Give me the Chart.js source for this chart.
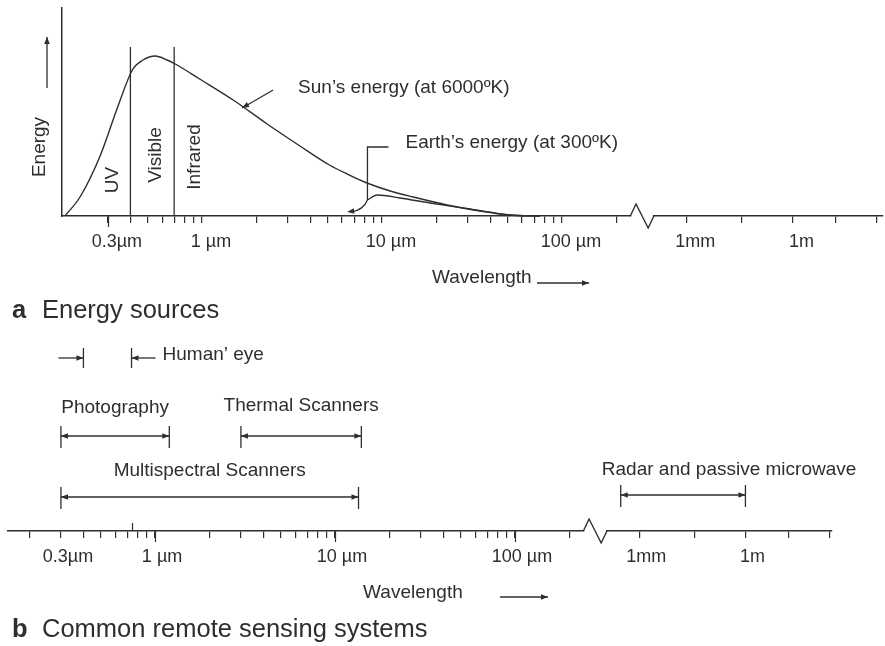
<!DOCTYPE html>
<html lang="en">
<head>
  <meta charset="UTF-8">
  <title>Energy sources and remote sensing systems</title>
  <script src="https://cdn.jsdelivr.net/npm/chart.js@4.4.1/dist/chart.umd.min.js"></script>
  <style>
    body { margin: 0; background: #fff; }
    #page { position: relative; width: 885px; height: 646px; overflow: hidden;
            font-family: "Liberation Sans", Arial, sans-serif; color: #2e2e2e; }
    canvas { position: absolute; left: 0; }
    #energyChart { top: 0; }
    #sensorChart { top: 330px; }
    .panel-title { position: absolute; left: 12px; font-size: 25.5px; line-height: 25.5px; white-space: nowrap; }
    .panel-title b { display: inline-block; width: 30px; }
  </style>
</head>
<body>
<div id="page">
  <canvas id="energyChart" width="885" height="300"></canvas>
  <canvas id="sensorChart" width="885" height="316"></canvas>
  <div class="panel-title" style="top: 297px"><b>a</b>Energy sources</div>
  <div class="panel-title" style="top: 616px"><b>b</b>Common remote sensing systems</div>
</div>

<script>
  const ink = '#2e2e2e';
  const fontFamily = '"Liberation Sans", Arial, Helvetica, sans-serif';

  // emission curves: wavelength in µm, relative energy
  const sunWavelength = [0.173, 0.21, 0.27, 0.34, 0.41, 0.47, 0.55, 0.64, 0.71, 0.97, 1.49, 2.3, 3.5, 5.1, 6.4, 8.25, 11.1, 14.9, 23, 35, 51, 75];
  const sunEnergy     = [0, 19, 59, 109, 146, 156, 160, 156, 152, 137, 116, 92, 70, 51, 42, 33, 25, 19, 11, 5, 1, 0];
  const earthWavelength = [8.3, 9.4, 12.6, 18.5, 30.8, 51.4, 75];
  const earthEnergy     = [16, 21, 18, 13, 7, 1, 0];

  // spectral bands under the sun curve
  const bandEdges = [0.4, 0.7];
  const bandNames = ['UV', 'Visible', 'Infrared'];

  // log spaced ticks up to 200 µm, then a squeezed stretch after the axis break
  const tickWavelengthA = [0.3, 0.4, 0.5, 0.6, 0.7, 0.8, 0.9, 1, 2, 3, 4, 5, 6, 7, 8, 9, 10,
                           20, 30, 40, 50, 60, 70, 80, 90, 100, 200];
  const tickWavelengthB = [0.2].concat(tickWavelengthA);
  const tickLabelText = { 0.3: '0.3µm', 1: '1 µm', 10: '10 µm', 100: '100 µm' };
  const farTickPos = [2.69, 3.0, 3.28, 3.52, 3.75];
  const farTickLabels = ['1mm', '', '1m', '', ''];

  // remote sensing systems, range in µm
  const sensorNames = ['Photography', 'Thermal Scanners', 'Multispectral Scanners', 'Radar and passive microwave'];
  const sensorFrom  = [0.3, 3, 0.3, 300];
  const sensorTo    = [1.2, 14, 13.5, 1e6];
  const eyeRange    = [0.4, 0.74];

  // position on the x axis (decades of µm); past the break 1mm and 1m sit on far ticks 0 and 2
  function toPos(um) {
    if (um <= 250) return Math.log10(um);
    const p0 = farTickPos[0], p1 = farTickPos[2];
    return p0 + (Math.log10(um) - 3) / 3 * (p1 - p0);
  }

  function axisTicks(wavelengths) {
    return {
      pos: wavelengths.map(toPos).concat(farTickPos),
      text: wavelengths.map(w => tickLabelText[w] || '').concat(farTickLabels)
    };
  }

  function wavelengthAxis(ticks, min, max, height, labelOffset) {
    return {
      type: 'linear', min: min, max: max,
      afterBuildTicks: s => { s.ticks = ticks.pos.map(v => ({ value: v })); },
      afterFit: s => { s.height = height; },
      grid: { drawOnChartArea: false, tickLength: 7, color: ink, lineWidth: 1.2 },
      border: { color: ink, width: 1.5 },
      ticks: {
        autoSkip: false, maxRotation: 0, padding: 8, labelOffset: labelOffset, color: ink,
        font: { family: fontFamily, size: 18 },
        callback: (v, i) => ticks.text[i]
      }
    };
  }

  // small drawing helpers
  function write(ctx, str, x, y, align, size) {
    ctx.save();
    ctx.font = (size || 19) + 'px ' + fontFamily;
    ctx.fillStyle = ink;
    ctx.textAlign = align || 'left';
    ctx.textBaseline = 'middle';
    ctx.fillText(str, x, y);
    ctx.restore();
  }

  function writeUp(ctx, str, x, y) {
    ctx.save();
    ctx.translate(x, y);
    ctx.rotate(-Math.PI / 2);
    write(ctx, str, 0, 0, 'center');
    ctx.restore();
  }

  function line(ctx, x0, y0, x1, y1) {
    ctx.beginPath();
    ctx.moveTo(x0, y0);
    ctx.lineTo(x1, y1);
    ctx.stroke();
  }

  function head(ctx, x, y, dx, dy) {
    const l = Math.hypot(dx, dy), ux = dx / l, uy = dy / l;
    const len = 7, w = 2.8;
    ctx.beginPath();
    ctx.moveTo(x, y);
    ctx.lineTo(x - ux * len - uy * w, y - uy * len + ux * w);
    ctx.lineTo(x - ux * len + uy * w, y - uy * len - ux * w);
    ctx.closePath();
    ctx.fill();
  }

  function arrow(ctx, x0, y0, x1, y1) {
    line(ctx, x0, y0, x1, y1);
    head(ctx, x1, y1, x1 - x0, y1 - y0);
  }

  // longer tick marks at a few wavelengths (up = above the axis line)
  function longTicks(chart, wavelengths, down, up) {
    const { ctx, chartArea: area, scales: { x } } = chart;
    ctx.save();
    ctx.strokeStyle = ink;
    ctx.lineWidth = 1.2;
    wavelengths.forEach(w => {
      const px = Math.round(x.getPixelForValue(toPos(w))) + 0.5;
      line(ctx, px, area.bottom - up, px, area.bottom + down);
    });
    ctx.restore();
  }

  // white out the axis between two positions and draw the zigzag
  function axisBreak(chart, from, to) {
    const { ctx, chartArea: area, scales: { x } } = chart;
    const a = x.getPixelForValue(from), b = x.getPixelForValue(to), yy = area.bottom;
    ctx.save();
    ctx.fillStyle = '#fff';
    ctx.fillRect(a, yy - 3, b - a, 6);
    ctx.strokeStyle = ink;
    ctx.lineWidth = 1.4;
    ctx.beginPath();
    ctx.moveTo(a - 1, yy);
    ctx.lineTo(a + (b - a) * 0.22, yy - 12);
    ctx.lineTo(a + (b - a) * 0.78, yy + 12);
    ctx.lineTo(b + 1, yy);
    ctx.stroke();
    ctx.restore();
  }

  function curve(label, wl, energy) {
    return {
      label: label,
      data: wl.map((w, i) => ({ x: toPos(w), y: energy[i] })),
      borderColor: ink, borderWidth: 1.4, pointRadius: 0,
      cubicInterpolationMode: 'monotone', clip: false
    };
  }

  // panel a: labels, band lines and pointers over the curves
  const energyDecor = {
    id: 'energyDecor',
    afterDraw(chart) {
      const { ctx, chartArea: area, scales: { x, y } } = chart;
      ctx.save();
      ctx.strokeStyle = ink;
      ctx.fillStyle = ink;
      ctx.lineWidth = 1.3;

      bandEdges.forEach(w => {
        const px = x.getPixelForValue(toPos(w));
        line(ctx, px, y.getPixelForValue(169), px, area.bottom);
      });
      [[0.32, 36], [0.555, 61], [0.91, 59]].forEach((p, i) => {
        writeUp(ctx, bandNames[i], x.getPixelForValue(toPos(p[0])), y.getPixelForValue(p[1]));
      });

      writeUp(ctx, 'Energy', area.left - 22, 147);
      arrow(ctx, area.left - 15, 88, area.left - 15, 37);

      // pointer onto the sun curve near 1.7 µm
      const sx = x.getPixelForValue(toPos(1.67)), sy = y.getPixelForValue(108);
      arrow(ctx, sx + 31, sy - 18, sx, sy);
      write(ctx, 'Sun’s energy (at 6000ºK)', sx + 56, sy - 20);

      // leader to the start of the earth curve, with a hook down to the axis
      const ex = x.getPixelForValue(toPos(earthWavelength[0])), ey = y.getPixelForValue(earthEnergy[0]);
      const top = y.getPixelForValue(69);
      ctx.beginPath();
      ctx.moveTo(ex + 21, top);
      ctx.lineTo(ex, top);
      ctx.lineTo(ex, ey);
      ctx.stroke();
      const tx = x.getPixelForValue(toPos(6.4)), ty = y.getPixelForValue(4);
      ctx.beginPath();
      ctx.moveTo(ex, ey);
      ctx.quadraticCurveTo(ex - 4, ty - 2, tx + 4, ty);
      ctx.stroke();
      head(ctx, tx, ty, -15, 2);
      write(ctx, 'Earth’s energy (at 300ºK)', ex + 38, top - 4);

      write(ctx, 'Wavelength', x.getPixelForValue(1.278), area.bottom + 62);
      arrow(ctx, x.getPixelForValue(1.861), area.bottom + 67, x.getPixelForValue(2.15), area.bottom + 67);
      ctx.restore();

      longTicks(chart, [0.3], 11, 0);
      axisBreak(chart, 2.385, 2.505);
    }
  };

  // panel b: wavelength ranges of the sensing systems
  const sensorRow = [95, 95, 34, 36];
  const sensorLabelGap = [28, 30, 26, 25];
  const sensorLabelShift = [0, 0, 0, 46];

  const sensorDecor = {
    id: 'sensorDecor',
    afterDraw(chart) {
      const { ctx, chartArea: area, scales: { x, y } } = chart;
      ctx.save();
      ctx.strokeStyle = ink;
      ctx.fillStyle = ink;
      ctx.lineWidth = 1.3;

      const eyeY = y.getPixelForValue(173);
      const e0 = x.getPixelForValue(toPos(eyeRange[0])), e1 = x.getPixelForValue(toPos(eyeRange[1]));
      line(ctx, e0, eyeY - 10, e0, eyeY + 10);
      line(ctx, e1, eyeY - 10, e1, eyeY + 10);
      arrow(ctx, e0 - 25, eyeY, e0, eyeY);
      arrow(ctx, e1 + 24, eyeY, e1, eyeY);
      write(ctx, 'Human’ eye', e1 + 31, eyeY - 3);

      sensorNames.forEach((name, i) => {
        const a = x.getPixelForValue(toPos(sensorFrom[i])), b = x.getPixelForValue(toPos(sensorTo[i]));
        const yy = y.getPixelForValue(sensorRow[i]);
        line(ctx, a, yy - 10, a, yy + 12);
        line(ctx, b, yy - 10, b, yy + 12);
        line(ctx, a, yy, b, yy);
        head(ctx, a, yy, -1, 0);
        head(ctx, b, yy, 1, 0);
        write(ctx, name, (a + b) / 2 + sensorLabelShift[i], yy - sensorLabelGap[i], 'center');
      });

      write(ctx, 'Wavelength', x.getPixelForValue(1.156), area.bottom + 62);
      arrow(ctx, x.getPixelForValue(1.917), area.bottom + 66, x.getPixelForValue(2.183), area.bottom + 66);
      ctx.restore();

      longTicks(chart, [1, 10, 100], 11, 0);
      longTicks(chart, [eyeRange[1]], 0, 8);
      axisBreak(chart, 2.385, 2.505);
    }
  };

  const common = {
    responsive: false,
    animation: false,
    events: [],
    plugins: { legend: { display: false }, tooltip: { enabled: false } }
  };

  new Chart(document.getElementById('energyChart'), {
    type: 'line',
    data: {
      datasets: [
        curve('Sun’s energy', sunWavelength, sunEnergy),
        curve('Earth’s energy', earthWavelength, earthEnergy)
      ]
    },
    options: Object.assign({}, common, {
      layout: { padding: { top: 8, right: 2, left: 0, bottom: 0 } },
      scales: {
        x: wavelengthAxis(axisTicks(tickWavelengthA), -0.778, 3.783, 84, 9),
        y: {
          min: 0, max: 208,
          afterFit: s => { s.width = 62; },
          grid: { display: false },
          ticks: { display: false },
          border: { color: ink, width: 1.5 }
        }
      }
    }),
    plugins: [energyDecor]
  });

  new Chart(document.getElementById('sensorChart'), {
    type: 'line',
    data: { datasets: [] },
    options: Object.assign({}, common, {
      layout: { padding: { top: 10, right: 53, left: 8, bottom: 0 } },
      scales: {
        x: wavelengthAxis(axisTicks(tickWavelengthB), -0.817, 3.761, 115, 7),
        y: { min: 0, max: 191, display: false }
      }
    }),
    plugins: [sensorDecor]
  });
</script>
</body>
</html>
